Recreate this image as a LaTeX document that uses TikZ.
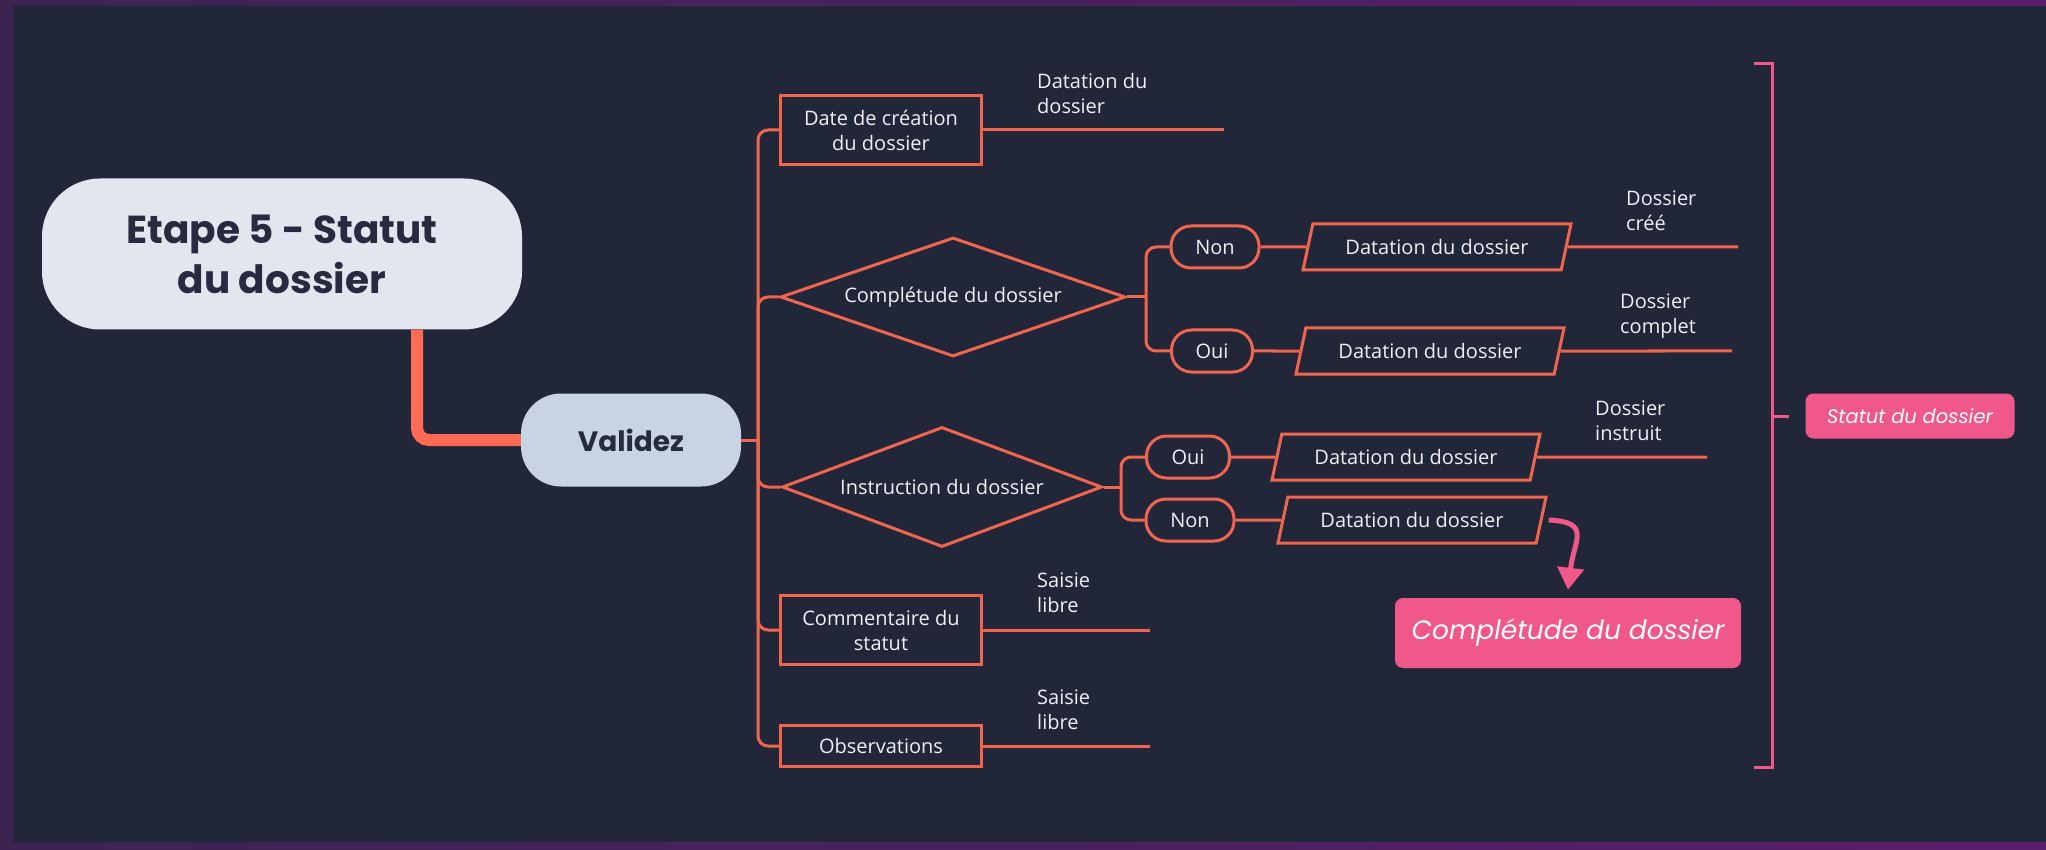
\documentclass[tikz,border=0pt]{standalone}
\usepackage{fontspec}
\setmainfont{Open Sans}
\newfontfamily\headfont{Poppins}
\usetikzlibrary{shapes.geometric,arrows.meta}

\definecolor{bg}{HTML}{222639}
\definecolor{frame}{HTML}{3C2352}
\definecolor{coral}{HTML}{F0654E}
\definecolor{hot}{HTML}{FF6B55}
\definecolor{rose}{HTML}{F0588A}
\definecolor{ink}{HTML}{262B3F}
\definecolor{paper}{HTML}{E2E6EE}
\definecolor{mist}{HTML}{C9D3E6}
\definecolor{chalk}{HTML}{EEF0F4}

\newcommand\lbl{\fontsize{20}{25}\selectfont}

\tikzstyle{topic} = [fill=paper, rounded corners=58pt, minimum width=480pt, minimum height=151pt, text=ink, align=center, font=\headfont\bfseries\fontsize{39}{50}\selectfont]
\tikzstyle{subtopic} = [fill=mist, rounded corners=40pt, minimum width=220pt, minimum height=93pt, text=ink, font=\headfont\bfseries\fontsize{28}{32}\selectfont]
\tikzstyle{field} = [draw=coral, line width=3pt, minimum width=201pt, text=chalk, align=center, inner sep=0pt, font=\lbl]
\tikzstyle{choice} = [diamond, draw=coral, line width=3pt, text=chalk, inner sep=0pt, font=\lbl]
\tikzstyle{answer} = [draw=coral, line width=3pt, rounded corners=20pt, minimum width=88pt, minimum height=42pt, text=chalk, font=\lbl]
\tikzstyle{datation} = [trapezium, trapezium left angle=66, trapezium right angle=114, trapezium stretches body, draw=coral, line width=3pt, minimum width=268pt, minimum height=46pt, text=chalk, font=\lbl]
\tikzstyle{link} = [draw=coral, line width=3pt]
\tikzstyle{fork} = [link, rounded corners=10pt]
\tikzstyle{note} = [anchor=west, inner sep=0pt, text=chalk, align=left, font=\lbl]
\tikzstyle{tag} = [fill=rose, rounded corners=8pt, text=white, font=\headfont\itshape]

\begin{document}
\begin{tikzpicture}[x=1pt, y=-1pt]
  \fill[left color=frame, right color=frame!85!magenta] (0,0) rectangle (2046,850);
  \fill[bg] (13,6) rectangle (2046,842);

  \node (root) at (282,254) [topic] {Etape 5 - Statut\\du dossier};
  \node (valid) at (631,440) [subtopic] {Validez};
  \node (date) at (881,130) [field, minimum height=69pt] {Date de création\\du dossier};
  \node (complet) at (953,297) [choice, aspect=2.9, minimum width=345pt, minimum height=119pt] {Complétude du dossier};
  \node (nonA) at (1215,247) [answer] {Non};
  \node (ouiA) at (1212,351) [answer, minimum width=81pt] {Oui};
  \node (datA1) at (1437,247) [datation] {Datation du dossier};
  \node (datA2) at (1430,351) [datation] {Datation du dossier};
  \node (instr) at (942,487) [choice, aspect=2.67, minimum width=320pt, minimum height=120pt] {Instruction du dossier};
  \node (ouiB) at (1188,457) [answer, minimum width=83pt] {Oui};
  \node (nonB) at (1190,520) [answer] {Non};
  \node (datB1) at (1406,457) [datation] {Datation du dossier};
  \node (datB2) at (1412,520) [datation] {Datation du dossier};
  \node (comment) at (881,630) [field, minimum height=69pt] {Commentaire du\\statut};
  \node (observ) at (881,746) [field, minimum height=41pt] {Observations};
  \node (retour) at (1568,633) [tag, minimum width=346pt, minimum height=70pt, font=\headfont\itshape\fontsize{26.5}{30}\selectfont] {Complétude du dossier};
  \node (statut) at (1910,416) [tag, minimum width=209pt, minimum height=45pt, font=\headfont\itshape\fontsize{19.5}{22}\selectfont] {Statut du dossier};

  \node (dateNote) at (1037,94) [note] {Datation du\\dossier};
  \node (creeNote) at (1626,211) [note] {Dossier\\créé};
  \node (completNote) at (1620,316) [note] {Dossier\\complet};
  \node (instruitNote) at (1595,421) [note] {Dossier\\instruit};
  \node (libreNote) at (1037,593) [note] {Saisie\\libre};
  \node (obsNote) at (1037,710) [note] {Saisie\\libre};

  \coordinate (trunk) at (758,440);
  \coordinate (forkA) at (1146,297);
  \coordinate (forkB) at (1121,487);
  \coordinate (dateEnd) at (1224,130);
  \coordinate (creeEnd) at (1738,247);
  \coordinate (completEnd) at (1732,351);
  \coordinate (instruitEnd) at (1707,457);
  \coordinate (commentEnd) at (1150,630);
  \coordinate (observEnd) at (1150,746);

  % main branch
  \draw [hot, line width=12pt, rounded corners=12pt] ([xshift=135pt]root.south) |- (valid.west);
  \draw [link] (valid) -- (trunk);
  \foreach \k in {date, complet, instr, comment, observ}
    \draw [fork] (trunk) |- (\k.west);

  % decisions
  \draw [link] (complet) -- (forkA);
  \draw [fork] (forkA) |- (nonA.west);
  \draw [fork] (forkA) |- (ouiA.west);
  \draw [link] (instr) -- (forkB);
  \draw [fork] (forkB) |- (ouiB.west);
  \draw [fork] (forkB) |- (nonB.west);
  \draw [link] (nonA) -- (datA1);
  \draw [link] (ouiA) -- (datA2);
  \draw [link] (ouiB) -- (datB1);
  \draw [link] (nonB) -- (datB2);

  % free ends
  \draw [link] (date) -- (dateEnd);
  \draw [link] (datA1) -- (creeEnd);
  \draw [link] (datA2) -- (completEnd);
  \draw [link] (datB1) -- (instruitEnd);
  \draw [link] (comment) -- (commentEnd);
  \draw [link] (observ) -- (observEnd);

  \draw [rose, line width=5pt, -{Triangle[width=26pt,length=22pt]}] ([xshift=6pt]datB2.east) .. controls (1592,522) and (1574,540) .. ([yshift=8pt]retour.north);

  % bracket
  \draw [rose, line width=3pt] (1754,64) -- (1772,64) -- (1772,767) -- (1754,767);
  \draw [rose, line width=3pt] (1772,416) -- (1789,416);
\end{tikzpicture}
\end{document}
